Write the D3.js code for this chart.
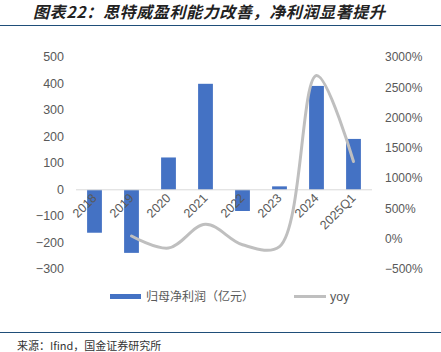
<!DOCTYPE html>
<html>
<head>
<meta charset="utf-8">
<script src="https://cdn.jsdelivr.net/npm/d3@7"></script>
<style>
  body { margin: 0; background: #fff; }
  text { font-family: "Liberation Sans", Arial, sans-serif; }
  .cjk { font-family: "Noto Sans CJK SC", sans-serif; }
</style>
</head>
<body>
<div id="chart"></div>
<script>
const categories = ["2018", "2019", "2020", "2021", "2022", "2023", "2024", "2025Q1"];
const profit = [-162, -238, 122, 400, -80, 13, 392, 192];
const yoy = [null, 50, -150, 245, -95, -125, 2700, 1280];
const leftTicks = [-300, -200, -100, 0, 100, 200, 300, 400, 500];
const rightTicks = [-500, 0, 500, 1000, 1500, 2000, 2500, 3000];

const width = 441, height = 352;
const svg = d3.select("#chart").append("svg")
  .attr("width", width).attr("height", height);

// title + rules
svg.append("text")
  .attr("class", "cjk")
  .attr("x", 33).attr("y", 18)
  .attr("font-size", 16)
  .attr("font-weight", "bold")
  .attr("font-style", "italic")
  .attr("fill", "#222")
  .attr("textLength", 352)
  .attr("lengthAdjust", "spacing")
  .text("图表22：思特威盈利能力改善，净利润显著提升");

svg.append("line").attr("x1", 0).attr("x2", width).attr("y1", 25.5).attr("y2", 25.5)
  .attr("stroke", "#1f4e79").attr("stroke-width", 1);
svg.append("line").attr("x1", 0).attr("x2", width).attr("y1", 332.5).attr("y2", 332.5)
  .attr("stroke", "#1f4e79").attr("stroke-width", 1);

svg.append("text")
  .attr("class", "cjk")
  .attr("x", 17).attr("y", 350)
  .attr("font-size", 11)
  .attr("fill", "#333")
  .text("来源：Ifind，国金证券研究所");

// scales
const x = d3.scaleBand().domain(categories).range([76, 372])
  .paddingInner(0.6).paddingOuter(0.3);
const yL = d3.scaleLinear().domain([-300, 500]).range([269.3, 57.3]);
const yR = d3.scaleLinear().domain([-500, 3000]).range([269.3, 57.3]);

// left axis labels
svg.append("g").selectAll("text").data(leftTicks).enter().append("text")
  .attr("x", 64).attr("y", d => yL(d) + 4)
  .attr("text-anchor", "end")
  .attr("font-size", 12.5).attr("fill", "#595959")
  .text(d => d < 0 ? "\u2212" + Math.abs(d) : d);

// right axis labels
svg.append("g").selectAll("text").data(rightTicks).enter().append("text")
  .attr("x", 385).attr("y", d => yR(d) + 4)
  .attr("font-size", 12).attr("fill", "#595959")
  .text(d => (d < 0 ? "\u2212" + Math.abs(d) : d) + "%");

// bars
svg.append("g").selectAll("rect").data(categories).enter().append("rect")
  .attr("x", d => x(d))
  .attr("width", x.bandwidth())
  .attr("y", (d, i) => yL(Math.max(0, profit[i])))
  .attr("height", (d, i) => Math.abs(yL(profit[i]) - yL(0)))
  .attr("fill", "#4472C4");

// zero line
svg.append("line").attr("x1", 76).attr("x2", 372)
  .attr("y1", yL(0)).attr("y2", yL(0))
  .attr("stroke", "#d9d9d9").attr("stroke-width", 1);

// category labels
svg.append("g").selectAll("text").data(categories).enter().append("text")
  .attr("transform", d => `translate(${x(d) + x.bandwidth() / 2 + 3},${yL(0) + 9}) rotate(-45)`)
  .attr("text-anchor", "end")
  .attr("font-size", 12.5).attr("fill", "#595959")
  .text(d => d);

// yoy line
const pts = categories.map((c, i) => [x(c) + x.bandwidth() / 2, yoy[i]]).filter(p => p[1] !== null);
const line = d3.line()
  .x(p => p[0]).y(p => yR(p[1]))
  .curve(d3.curveCatmullRom.alpha(0.5));
svg.append("path")
  .attr("d", line(pts))
  .attr("fill", "none")
  .attr("stroke", "#BFBFBF")
  .attr("stroke-width", 3)
  .attr("stroke-linecap", "round");

// legend
svg.append("rect").attr("x", 110).attr("y", 294).attr("width", 31).attr("height", 5).attr("fill", "#4472C4");
svg.append("text").attr("class", "cjk").attr("x", 146).attr("y", 301)
  .attr("font-size", 12).attr("fill", "#595959").text("归母净利润（亿元）");
svg.append("line").attr("x1", 294).attr("x2", 326).attr("y1", 296.5).attr("y2", 296.5)
  .attr("stroke", "#BFBFBF").attr("stroke-width", 3);
svg.append("text").attr("x", 330).attr("y", 301)
  .attr("font-size", 12.5).attr("fill", "#595959").text("yoy");
</script>
</body>
</html>
